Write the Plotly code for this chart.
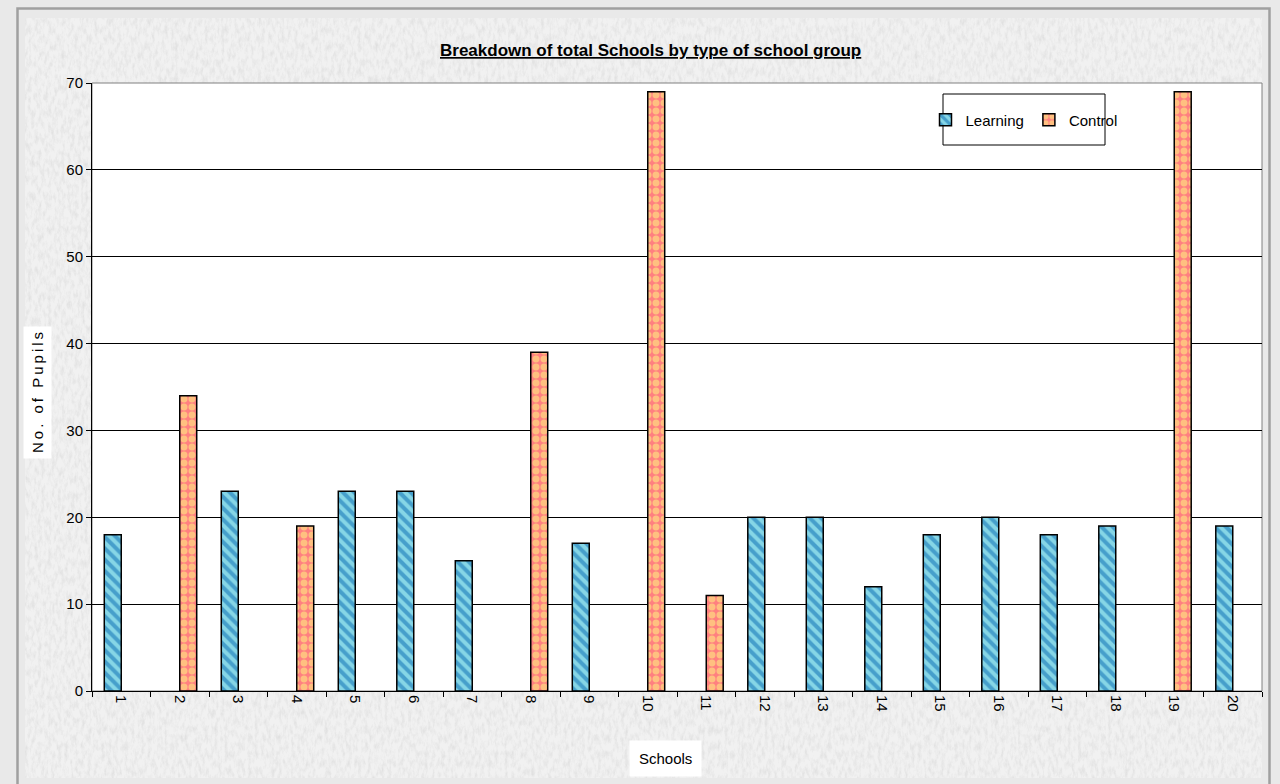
import base64
import plotly.graph_objects as go

schools = [str(i) for i in range(1, 21)]
learning = [18, None, 23, None, 23, 23, 15, None, 17, None, None, 20, 20, 12, 18, 20, 18, 19, None, 19]
control = [None, 34, None, 19, None, None, None, 39, None, 69, 11, None, None, None, None, None, None, None, 69, None]
y_ticks = [0, 10, 20, 30, 40, 50, 60, 70]

W, H = 1280, 784
L, R, T, B = 92, 18, 83, 93
PW, PH = W - L - R, H - T - B


def px(x):
    return (x - L) / PW


def py(y):
    return 1 - (y - T) / PH


FONT = "Liberation Sans Narrow, Arial Narrow, Liberation Sans, Arial, sans-serif"

tex_w, tex_h = 1237, 760
svg = f'''<svg xmlns="http://www.w3.org/2000/svg" width="{tex_w}" height="{tex_h}" viewBox="0 0 {tex_w} {tex_h}">
<filter id="n" x="0" y="0" width="100%" height="100%">
<feTurbulence type="fractalNoise" baseFrequency="0.3 0.12" numOctaves="4" seed="11" result="t"/>
<feColorMatrix in="t" type="matrix" values="0 0 0 0 0.5  0 0 0 0 0.5  0 0 0 0 0.5  1.5 0 0 0 -0.6"/>
</filter>
<rect width="100%" height="100%" fill="#f1f1f1"/>
<rect width="100%" height="100%" filter="url(#n)" opacity="0.4"/>
</svg>'''
tex_src = "data:image/svg+xml;base64," + base64.b64encode(svg.encode()).decode()

fig = go.Figure()
fig.add_trace(go.Bar(
    x=schools, y=learning, name="Learning",
    marker=dict(
        color="#86d6e6",
        line=dict(color="#000000", width=1.5),
        pattern=dict(shape="\\", fgcolor="#0668b0", bgcolor="#86d6e6", size=8, solidity=0.5),
    ),
))
fig.add_trace(go.Bar(
    x=schools, y=control, name="Control",
    marker=dict(
        color="#ff8080",
        line=dict(color="#000000", width=1.5),
        pattern=dict(shape=".", fgcolor="#ffff80", bgcolor="#ff8080", size=8, solidity=0.6),
    ),
))

shapes = [
    # outer frame
    dict(type="rect", xref="paper", yref="paper", x0=px(17.5), x1=px(1269.5), y0=py(800), y1=py(8.5),
         line=dict(color="#a0a0a0", width=2.5), fillcolor="rgba(0,0,0,0)", layer="below"),
    # white plot area
    dict(type="rect", xref="paper", yref="paper", x0=0, x1=1, y0=0, y1=1,
         line=dict(color="#808080", width=1), fillcolor="#ffffff", layer="below"),
    # legend box
    dict(type="rect", xref="paper", yref="paper", x0=px(943), x1=px(1105), y0=py(145), y1=py(94),
         line=dict(color="#000000", width=1), fillcolor="#ffffff", layer="above"),
]

fig.update_layout(
    width=W, height=H,
    margin=dict(l=L, r=R, t=T, b=B),
    paper_bgcolor="#e9e9e9",
    plot_bgcolor="rgba(0,0,0,0)",
    barmode="group",
    bargap=0.42,
    bargroupgap=0,
    font=dict(family=FONT, size=15, color="#000000"),
    images=[dict(source=tex_src, xref="paper", yref="paper", x=px(25), y=py(18),
                  sizex=tex_w / PW, sizey=tex_h / PH, xanchor="left", yanchor="top",
                  sizing="stretch", layer="below")],
    shapes=shapes,
    legend=dict(orientation="h", x=px(1024), y=py(120), xanchor="center", yanchor="middle",
                bgcolor="rgba(0,0,0,0)", borderwidth=0, font=dict(size=15),
                itemwidth=30, tracegroupgap=0),
    annotations=[
        dict(text="<b><u>Breakdown of total Schools by type of school group</u></b>",
             xref="paper", yref="paper", x=px(650), y=py(50), xanchor="center", yanchor="middle",
             showarrow=False, font=dict(size=17, family=FONT)),
        dict(text="Schools", xref="paper", yref="paper", x=px(665), y=py(758),
             xanchor="center", yanchor="middle", showarrow=False, bgcolor="#ffffff",
             borderpad=9, font=dict(size=15, family=FONT)),
        dict(text="N\u2009o\u2009.\u2009 \u2009o\u2009f\u2009 \u2009P\u2009u\u2009p\u2009i\u2009l\u2009s",
             xref="paper", yref="paper", x=px(38), y=py(393), textangle=-90,
             xanchor="center", yanchor="middle", showarrow=False, bgcolor="#ffffff",
             borderpad=5, font=dict(size=15, family=FONT)),
    ],
)
fig.update_xaxes(
    type="category", tickangle=90, tickson="boundaries", ticks="outside", ticklen=5,
    tickcolor="#000000", showline=True, linecolor="#000000", linewidth=1,
    showgrid=False, tickfont=dict(size=15, family=FONT),
)
fig.update_yaxes(
    range=[0, 70], tickvals=y_ticks, ticks="outside", ticklen=5, tickcolor="#000000",
    showline=True, linecolor="#000000", linewidth=1, showgrid=True,
    gridcolor="#000000", gridwidth=1, zeroline=False, tickfont=dict(size=15, family=FONT),
)

fig.write_html("out.html")
